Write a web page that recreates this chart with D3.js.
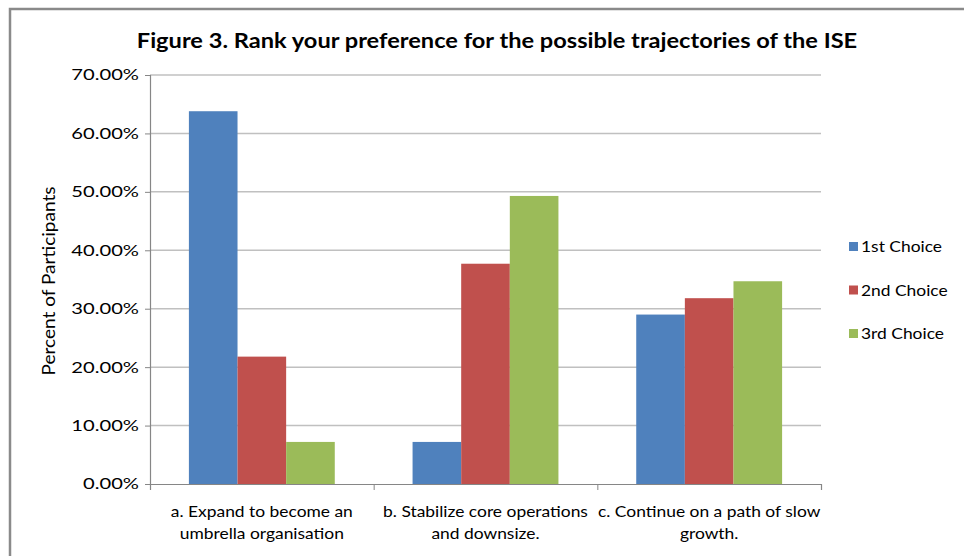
<!DOCTYPE html>
<html>
<head>
<meta charset="utf-8">
<script src="https://cdn.jsdelivr.net/npm/d3@7"></script>
<style>
  html, body { margin: 0; padding: 0; background: #fff; }
  svg { display: block; }
  text { font-family: Lato, "Open Sans", sans-serif; fill: #000; }
</style>
</head>
<body>
<svg id="chart" width="964" height="556"></svg>
<script>
const title = "Figure 3. Rank your preference for the possible trajectories of the ISE";
const yAxisTitle = "Percent of Participants";
const categories = [
  ["a. Expand to become an", "umbrella organisation"],
  ["b. Stabilize core operations", "and downsize."],
  ["c. Continue on a path of slow", "growth."]
];
const seriesNames = ["1st Choice", "2nd Choice", "3rd Choice"];
const seriesColors = ["#4F81BD", "#C0504D", "#9BBB59"];
const firstChoice = [0.638, 0.072, 0.290];
const secondChoice = [0.218, 0.377, 0.318];
const thirdChoice = [0.072, 0.493, 0.347];
const yTicks = [0, 0.1, 0.2, 0.3, 0.4, 0.5, 0.6, 0.7];

const series = [firstChoice, secondChoice, thirdChoice];
const svg = d3.select("#chart");
function stretchText(sel, k) {
  sel.each(function() {
    const w = this.getComputedTextLength();
    d3.select(this).attr("textLength", w * k).attr("lengthAdjust", "spacingAndGlyphs");
  });
}

// outer frame
svg.append("rect").attr("x", 10).attr("y", 9).attr("width", 980).attr("height", 580)
  .attr("fill", "none").attr("stroke", "#8a8a8a").attr("stroke-width", 2.5);

const pLeft = 150, pRight = 821, pTop = 75, pBottom = 484;
const x0 = d3.scaleBand().domain(d3.range(categories.length)).range([pLeft, pRight]).paddingInner(0).paddingOuter(0);
const y = d3.scaleLinear().domain([0, 0.7]).range([pBottom, pTop]);
const x1 = d3.scaleBand().domain(d3.range(series.length)).range([0, x0.bandwidth()]).paddingInner(0).paddingOuter(0.8);

// gridlines
svg.append("g").selectAll("line").data(yTicks.filter(d => d > 0)).join("line")
  .attr("x1", pLeft).attr("x2", pRight)
  .attr("y1", d => y(d)).attr("y2", d => y(d))
  .attr("stroke", "#c0c0c0").attr("stroke-width", 1.5);

// bars
const groups = svg.append("g").selectAll("g").data(categories).join("g")
  .attr("transform", (d, i) => `translate(${x0(i)},0)`);
groups.selectAll("rect").data((d, i) => series.map((s, j) => ({ j, v: s[i] }))).join("rect")
  .attr("x", d => x1(d.j)).attr("width", x1.bandwidth())
  .attr("y", d => y(d.v)).attr("height", d => y(0) - y(d.v))
  .attr("fill", d => seriesColors[d.j]);

// y axis
const yAxis = d3.axisLeft(y).tickValues(yTicks).tickFormat(d3.format(".2%")).tickSize(5).tickPadding(6);
const gy = svg.append("g").attr("transform", `translate(${pLeft},0)`).call(yAxis);
gy.select(".domain").attr("stroke", "#868686").attr("stroke-width", 1.2);
gy.selectAll(".tick line").attr("stroke", "#868686");
gy.selectAll(".tick text").attr("font-size", 15.5).attr("font-family", "Lato, sans-serif").attr("fill", "#000")
  .call(stretchText, 1.3);

// x axis
const xAxis = d3.axisBottom(d3.scaleLinear().domain([0, 3]).range([pLeft, pRight])).tickValues([0, 1, 2, 3]).tickSize(6).tickFormat("");
const gx = svg.append("g").attr("transform", `translate(0,${pBottom})`).call(xAxis);
gx.select(".domain").attr("stroke", "#868686").attr("stroke-width", 1.2);
gx.selectAll(".tick line").attr("stroke", "#868686");

// x labels
const xl = svg.append("g").selectAll("text").data(categories).join("text")
  .attr("text-anchor", "middle").attr("font-size", 15);
xl.each(function(d, i) {
  const t = d3.select(this);
  d.forEach((line, k) => {
    t.append("tspan").attr("x", x0(i) + x0.bandwidth() / 2).attr("y", 517 + k * 22).text(line);
  });
});
svg.selectAll("tspan").call(stretchText, 1.16);

// title
svg.append("text").attr("x", 497).attr("y", 48).attr("text-anchor", "middle")
  .attr("font-size", 20).attr("font-weight", "bold").text(title).call(stretchText, 1.18);

// y title
svg.append("text").attr("transform", "translate(55,281) rotate(-90)").attr("text-anchor", "middle")
  .attr("font-size", 17).text(yAxisTitle).call(stretchText, 1.12);

// legend
const lg = svg.append("g").selectAll("g").data(seriesNames).join("g")
  .attr("transform", (d, i) => `translate(849,${247 + i * 43.5})`);
lg.append("rect").attr("x", 0).attr("y", -5).attr("width", 9).attr("height", 9).attr("fill", (d, i) => seriesColors[i]);
lg.append("text").attr("x", 12).attr("y", 5).attr("font-size", 15).text(d => d).call(stretchText, 1.16);
</script>
</body>
</html>
